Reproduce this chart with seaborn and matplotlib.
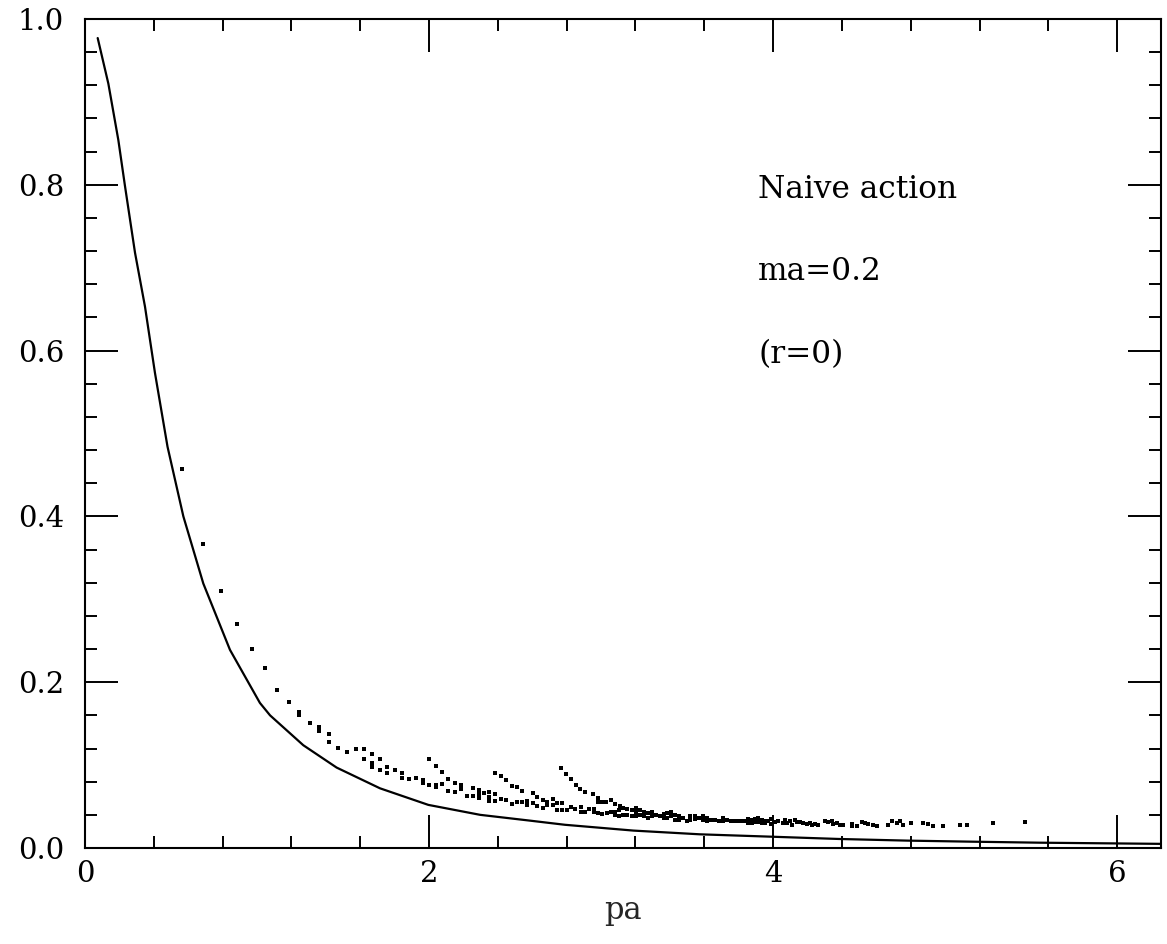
import matplotlib
matplotlib.use("Agg")
import matplotlib.pyplot as plt
from matplotlib.ticker import MultipleLocator
import seaborn as sns
import pandas as pd

# Continuum curve
curve_x = [0.074, 0.136, 0.194, 0.233, 0.291, 0.349, 0.407, 0.48, 0.572, 0.688,
           0.843, 1.017, 1.076, 1.269, 1.463, 1.715, 1.996, 2.297, 2.587, 2.79,
           3.188, 3.575, 3.98, 4.38, 4.78, 5.16, 5.55, 6.25]
curve_y = [0.977, 0.922, 0.854, 0.798, 0.718, 0.653, 0.573, 0.484, 0.40, 0.319,
           0.239, 0.175, 0.160, 0.124, 0.097, 0.072, 0.052, 0.040, 0.033, 0.028,
           0.021, 0.0165, 0.0137, 0.0109, 0.0089, 0.0076, 0.0064, 0.005]

# Lattice points
dot_x = [0.566, 0.688, 0.793, 0.886, 0.969, 1.045, 1.116, 1.184, 1.246, 1.246,
         1.308, 1.362, 1.362, 1.420, 1.420, 1.473, 1.525, 1.576, 1.622, 1.622,
         1.669, 1.669, 1.669, 1.715, 1.715, 1.758, 1.758, 1.800, 1.843, 1.843,
         1.886, 1.924, 1.963, 1.963, 2.002, 2.002, 2.039, 2.039, 2.039, 2.078,
         2.078, 2.112, 2.112, 2.149, 2.149, 2.184, 2.184, 2.219, 2.254, 2.254,
         2.289, 2.289, 2.289, 2.320, 2.351, 2.351, 2.351, 2.385, 2.385, 2.385,
         2.417, 2.417, 2.448, 2.448, 2.481, 2.481, 2.510, 2.510, 2.541, 2.541,
         2.572, 2.572, 2.603, 2.603, 2.630, 2.630, 2.661, 2.661, 2.688, 2.688,
         2.719, 2.719, 2.746, 2.746, 2.767, 2.773, 2.773, 2.795, 2.800, 2.824,
         2.824, 2.851, 2.855, 2.878, 2.882, 2.882, 2.905, 2.905, 2.932, 2.956,
         2.959, 2.959, 2.980, 2.980, 2.983, 3.006, 3.006, 3.029, 3.033, 3.056,
         3.056, 3.081, 3.081, 3.083, 3.106, 3.106, 3.110, 3.130, 3.130, 3.153,
         3.153, 3.178, 3.178, 3.203, 3.203, 3.203, 3.227, 3.227, 3.250, 3.250,
         3.273, 3.273, 3.297, 3.297, 3.320, 3.343, 3.366, 3.366, 3.386, 3.386,
         3.409, 3.409, 3.432, 3.432, 3.455, 3.455, 3.479, 3.502, 3.520, 3.520,
         3.544, 3.544, 3.567, 3.590, 3.590, 3.614, 3.614, 3.637, 3.661, 3.684,
         3.707, 3.707, 3.730, 3.754, 3.777, 3.800, 3.818, 3.837, 3.857, 3.857,
         3.876, 3.876, 3.895, 3.895, 3.915, 3.915, 3.934, 3.934, 3.953, 3.953,
         3.973, 3.987, 3.987, 4.012, 4.031, 4.056, 4.070, 4.079, 4.099, 4.108,
         4.128, 4.137, 4.157, 4.176, 4.195, 4.215, 4.225, 4.244, 4.264, 4.302,
         4.322, 4.341, 4.350, 4.370, 4.390, 4.409, 4.457, 4.457, 4.486, 4.515,
         4.535, 4.554, 4.583, 4.603, 4.670, 4.690, 4.719, 4.738, 4.758, 4.800,
         4.874, 4.900, 4.930, 4.990, 5.087, 5.126, 5.280, 5.465]
dot_y = [0.457, 0.367, 0.310, 0.270, 0.240, 0.217, 0.191, 0.176, 0.164, 0.161,
         0.151, 0.146, 0.141, 0.137, 0.128, 0.121, 0.116, 0.120, 0.119, 0.107,
         0.113, 0.103, 0.098, 0.107, 0.094, 0.098, 0.090, 0.094, 0.090, 0.085,
         0.083, 0.085, 0.082, 0.078, 0.107, 0.076, 0.099, 0.076, 0.073, 0.092,
         0.077, 0.083, 0.069, 0.079, 0.067, 0.076, 0.071, 0.063, 0.072, 0.063,
         0.070, 0.065, 0.060, 0.066, 0.067, 0.062, 0.057, 0.091, 0.065, 0.057,
         0.087, 0.059, 0.082, 0.058, 0.075, 0.053, 0.073, 0.055, 0.069, 0.055,
         0.057, 0.052, 0.066, 0.054, 0.062, 0.051, 0.058, 0.048, 0.056, 0.052,
         0.059, 0.052, 0.054, 0.046, 0.097, 0.054, 0.046, 0.089, 0.046, 0.083,
         0.049, 0.047, 0.076, 0.071, 0.049, 0.044, 0.068, 0.044, 0.047, 0.065,
         0.047, 0.044, 0.060, 0.056, 0.042, 0.055, 0.041, 0.056, 0.042, 0.058,
         0.043, 0.044, 0.040, 0.053, 0.046, 0.039, 0.051, 0.048, 0.040, 0.047,
         0.040, 0.046, 0.039, 0.048, 0.043, 0.038, 0.046, 0.040, 0.044, 0.038,
         0.042, 0.036, 0.044, 0.038, 0.040, 0.039, 0.041, 0.036, 0.042, 0.036,
         0.043, 0.038, 0.040, 0.034, 0.038, 0.034, 0.036, 0.033, 0.039, 0.034,
         0.038, 0.035, 0.036, 0.038, 0.034, 0.036, 0.033, 0.034, 0.034, 0.033,
         0.036, 0.032, 0.034, 0.032, 0.033, 0.032, 0.032, 0.032, 0.035, 0.030,
         0.034, 0.030, 0.035, 0.031, 0.036, 0.031, 0.034, 0.030, 0.033, 0.030,
         0.032, 0.035, 0.029, 0.031, 0.032, 0.030, 0.034, 0.030, 0.032, 0.028,
         0.034, 0.031, 0.031, 0.030, 0.029, 0.030, 0.028, 0.029, 0.028, 0.033,
         0.031, 0.032, 0.029, 0.030, 0.028, 0.028, 0.029, 0.026, 0.027, 0.031,
         0.030, 0.029, 0.028, 0.026, 0.028, 0.032, 0.030, 0.032, 0.028, 0.030,
         0.030, 0.029, 0.027, 0.027, 0.028, 0.028, 0.030, 0.031]

annotations = ["Naive action", "ma=0.2", "(r=0)"]
x_label = "pa"

sns.set_theme(style="ticks")
plt.rcParams['font.family'] = ['DejaVu Serif']

fig = plt.figure(figsize=(11.67, 9.44), dpi=100)
ax = fig.add_axes([0.0728, 0.1017, 0.995 - 0.0728, 0.9799 - 0.1017])

curve_df = pd.DataFrame({"x": curve_x, "y": curve_y})
dots_df = pd.DataFrame({"x": dot_x, "y": dot_y})

sns.lineplot(data=curve_df, x="x", y="y", ax=ax, color="black", linewidth=1.6,
             sort=False, estimator=None)
sns.scatterplot(data=dots_df, x="x", y="y", ax=ax, color="black", marker="s",
                s=5, linewidth=0)

ax.set_xlim(0, 6.256)
ax.set_ylim(0, 1.0)
ax.xaxis.set_major_locator(MultipleLocator(2))
ax.xaxis.set_minor_locator(MultipleLocator(0.4))
ax.yaxis.set_major_locator(MultipleLocator(0.2))
ax.yaxis.set_minor_locator(MultipleLocator(0.04))
ax.xaxis.set_major_formatter(plt.FuncFormatter(lambda v, p: f"{v:.0f}"))
ax.yaxis.set_major_formatter(plt.FuncFormatter(lambda v, p: f"{v:.1f}"))

ax.tick_params(which="both", direction="in", top=True, right=True,
               colors="black", labelsize=21)
ax.tick_params(which="major", length=24, width=1.4)
ax.tick_params(which="minor", length=8.5, width=1.4)
ax.tick_params(axis="x", which="major", pad=9)
ax.tick_params(axis="y", which="major", pad=15)
for sp in ax.spines.values():
    sp.set_visible(True)
    sp.set_linewidth(1.5)
    sp.set_color("black")

ax.set_xlabel(x_label, fontsize=22, labelpad=5)
ax.set_ylabel("")

for txt, yv in zip(annotations, [0.794, 0.695, 0.595]):
    ax.text(3.913, yv, txt, fontsize=22.5, ha="left", va="center", color="black")

fig.savefig("out.png", dpi=100)
